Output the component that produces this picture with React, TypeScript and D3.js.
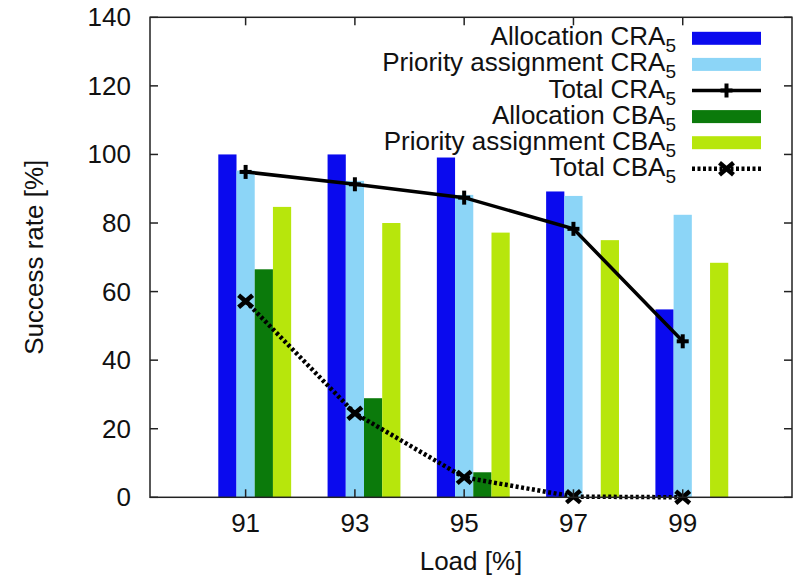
import React from "react";
import * as d3 from "d3";

const loads = [91, 93, 95, 97, 99];
const allocCRA = [100, 100, 99.1, 89.2, 54.8];
const prioCRA = [95.3, 92.3, 88.2, 87.9, 82.4];
const totalCRA = [94.9, 91.3, 87.4, 78.3, 45.5];
const allocCBA = [66.5, 28.9, 7.3, 0, 0];
const prioCBA = [84.7, 80, 77.2, 75, 68.4];
const totalCBA = [57.2, 24.5, 5.8, 0.2, 0];
const yTicks = [0, 20, 40, 60, 80, 100, 120, 140];
const legendLabels = [
  "Allocation CRA",
  "Priority assignment CRA",
  "Total CRA",
  "Allocation CBA",
  "Priority assignment CBA",
  "Total CBA",
];

const W = 799;
const H = 575;
const L = 150, R = 792, T = 17.3, B = 497.3;
const FONT = "'Liberation Sans', Arial, Helvetica, sans-serif";
const FS = 26;

const C_BLUE = "#0a0aee";
const C_LBLUE = "#8cd5f7";
const C_GREEN = "#0b7a0b";
const C_YEL = "#b7e60c";

export default function App() {
  const x = d3.scaleLinear().domain([89.25, 101]).range([L, R]);
  const y = d3.scaleLinear().domain([0, 140]).range([B, T]);
  const bw = x(91 + 1 / 3) - x(91);

  const barSeries = [
    { vals: allocCRA, color: C_BLUE, off: -1 },
    { vals: prioCRA, color: C_LBLUE, off: 0 },
    { vals: allocCBA, color: C_GREEN, off: 1 },
    { vals: prioCBA, color: C_YEL, off: 2 },
  ];

  const line = d3
    .line<number>()
    .x((_, i) => x(loads[i]))
    .y((d) => y(d));

  const plus = (cx: number, cy: number, k: string) => (
    <g key={k} stroke="#000" strokeWidth={4}>
      <line x1={cx - 6} x2={cx + 6} y1={cy} y2={cy} />
      <line x1={cx} x2={cx} y1={cy - 7} y2={cy + 7} />
    </g>
  );
  const cross = (cx: number, cy: number, k: string) => (
    <g key={k} stroke="#000" strokeWidth={4.5}>
      <line x1={cx - 7} x2={cx + 7} y1={cy - 6} y2={cy + 6} />
      <line x1={cx - 7} x2={cx + 7} y1={cy + 6} y2={cy - 6} />
    </g>
  );

  const legY0 = 38.3;
  const legDy = 26.1;
  const sx1 = 692, sx2 = 761, textX = 676;

  return (
    <svg
      width={W}
      height={H}
      style={{ position: "absolute", left: 0, top: 0, background: "#fff" }}
      fontFamily={FONT}
    >
      <rect x={0} y={0} width={W} height={H} fill="#fff" />
      {/* bars */}
      {barSeries.map((s, si) =>
        s.vals.map((v, i) => {
          const cx = x(loads[i] + s.off / 3);
          return v > 0 ? (
            <rect
              key={`b${si}-${i}`}
              x={cx - bw / 2}
              y={y(v)}
              width={bw}
              height={y(0) - y(v)}
              fill={s.color}
            />
          ) : null;
        })
      )}
      {/* lines */}
      <path d={line(totalCRA) || ""} fill="none" stroke="#000" strokeWidth={3.5} />
      <path
        d={line(totalCBA) || ""}
        fill="none"
        stroke="#000"
        strokeWidth={4.5}
        strokeDasharray="3 2.5"
      />
      {totalCRA.map((v, i) => plus(x(loads[i]), y(v), `p${i}`))}
      {totalCBA.map((v, i) => cross(x(loads[i]), y(v), `c${i}`))}

      {/* frame */}
      <rect x={L} y={T} width={R - L} height={B - T} fill="none" stroke="#222" strokeWidth={1.5} />
      {/* y ticks */}
      {yTicks.map((t) => (
        <g key={`yt${t}`}>
          <line x1={L} x2={L + 8} y1={y(t)} y2={y(t)} stroke="#222" strokeWidth={1.5} />
          <line x1={R} x2={R - 8} y1={y(t)} y2={y(t)} stroke="#222" strokeWidth={1.5} />
          <text x={131} y={y(t) + 9} textAnchor="end" fontSize={FS} fill="#111">
            {t}
          </text>
        </g>
      ))}
      {/* x ticks */}
      {loads.map((t) => (
        <g key={`xt${t}`}>
          <line x1={x(t)} x2={x(t)} y1={B} y2={B - 8} stroke="#222" strokeWidth={1.5} />
          <line x1={x(t)} x2={x(t)} y1={T} y2={T + 8} stroke="#222" strokeWidth={1.5} />
          <text x={x(t)} y={532} textAnchor="middle" fontSize={FS} fill="#111">
            {t}
          </text>
        </g>
      ))}
      {/* axis labels */}
      <text x={(L + R) / 2} y={570} textAnchor="middle" fontSize={FS} fill="#111">
        Load [%]
      </text>
      <text
        transform={`translate(43, ${(T + B) / 2}) rotate(-90)`}
        textAnchor="middle"
        fontSize={FS}
        fill="#111"
      >
        Success rate [%]
      </text>

      {/* legend */}
      {legendLabels.map((lab, i) => {
        const cy = legY0 + i * legDy;
        const mid = (sx1 + sx2) / 2;
        let sample: React.ReactNode;
        if (i === 2) {
          sample = (
            <g>
              <line x1={sx1} x2={sx2} y1={cy} y2={cy} stroke="#000" strokeWidth={3.5} />
              {plus(mid, cy, "lp")}
            </g>
          );
        } else if (i === 5) {
          sample = (
            <g>
              <line
                x1={sx1}
                x2={sx2}
                y1={cy}
                y2={cy}
                stroke="#000"
                strokeWidth={4.5}
                strokeDasharray="3 2.5"
              />
              {cross(mid, cy, "lc")}
            </g>
          );
        } else {
          const col = [C_BLUE, C_LBLUE, "", C_GREEN, C_YEL][i];
          sample = <rect x={sx1} y={cy - 6.5} width={sx2 - sx1} height={13} fill={col} />;
        }
        return (
          <g key={`lg${i}`}>
            <text x={textX} y={cy + 7} textAnchor="end" fontSize={FS} fill="#111">
              {lab}
              <tspan fontSize={19} dy={7}>
                5
              </tspan>
            </text>
            {sample}
          </g>
        );
      })}
    </svg>
  );
}
